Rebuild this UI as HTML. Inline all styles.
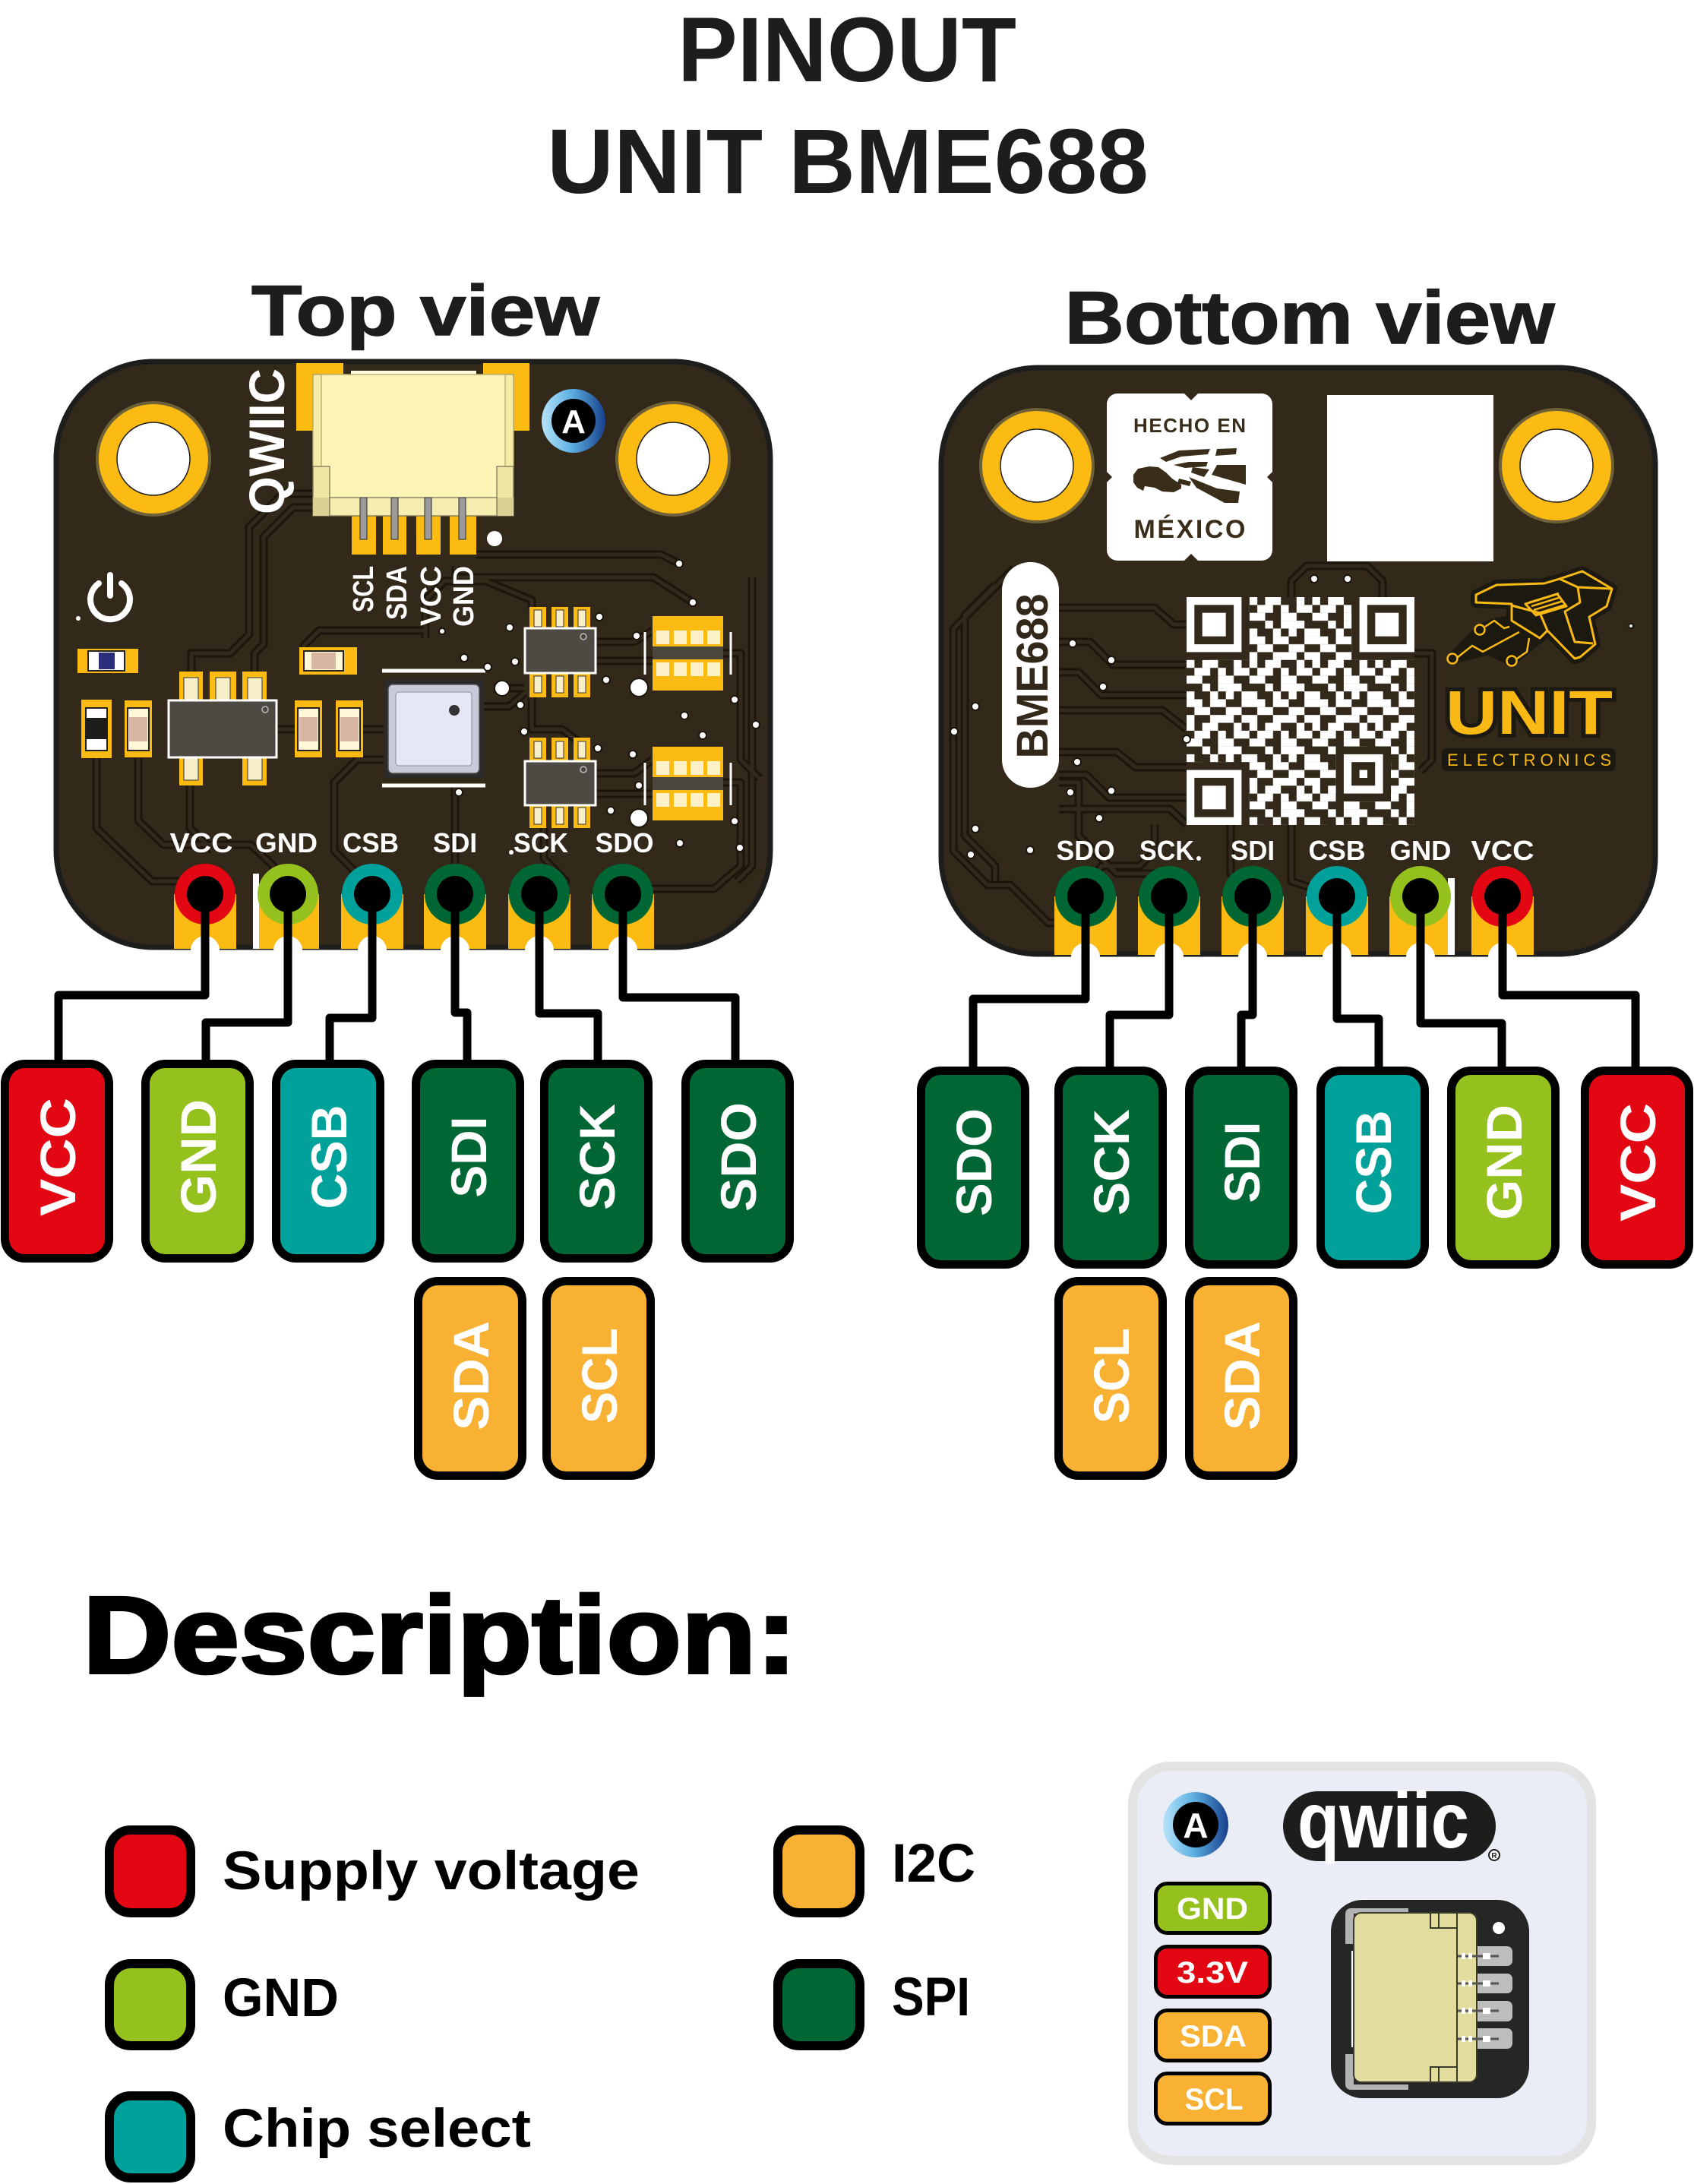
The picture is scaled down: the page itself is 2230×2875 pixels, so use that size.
<!DOCTYPE html>
<html><head><meta charset="utf-8"><title>Pinout UNIT BME688</title>
<style>
html,body{margin:0;padding:0;background:#fff;}
svg{display:block;}
text{font-family:"Liberation Sans",Arial,sans-serif;}
</style></head><body>
<svg width="2230" height="2875" viewBox="0 0 2230 2875" xmlns="http://www.w3.org/2000/svg">
<defs>
<linearGradient id="ag" x1="0" y1="0" x2="1" y2="0">
<stop offset="0" stop-color="#b7e3f8"/><stop offset="0.45" stop-color="#5fb2e4"/><stop offset="1" stop-color="#17408c"/>
</linearGradient>
<pattern id="qr" patternUnits="userSpaceOnUse" x="1562" y="786" width="82.76" height="82.76">
<g fill="#fff">
<rect x="0" y="0" width="10.4" height="10.4"/><rect x="20.69" y="0" width="20.75" height="10.4"/><rect x="62.07" y="0" width="10.4" height="10.4"/>
<rect x="10.345" y="10.345" width="20.75" height="10.4"/><rect x="41.38" y="10.345" width="10.4" height="10.4"/><rect x="62.07" y="10.345" width="20.75" height="10.4"/>
<rect x="0" y="20.69" width="20.75" height="10.4"/><rect x="41.38" y="20.69" width="20.75" height="10.4"/>
<rect x="20.69" y="31.03" width="10.4" height="10.4"/><rect x="41.38" y="31.03" width="31.1" height="10.4"/>
<rect x="0" y="41.38" width="10.4" height="10.4"/><rect x="31.03" y="41.38" width="10.4" height="10.4"/><rect x="51.72" y="41.38" width="10.4" height="10.4"/><rect x="72.41" y="41.38" width="10.4" height="10.4"/>
<rect x="0" y="51.72" width="20.75" height="10.4"/><rect x="31.03" y="51.72" width="20.75" height="10.4"/><rect x="72.41" y="51.72" width="10.4" height="10.4"/>
<rect x="10.345" y="62.07" width="20.75" height="10.4"/><rect x="51.72" y="62.07" width="20.75" height="10.4"/>
<rect x="0" y="72.41" width="10.4" height="10.4"/><rect x="31.03" y="72.41" width="31.1" height="10.4"/><rect x="72.41" y="72.41" width="10.4" height="10.4"/>
</g>
</pattern>
<g id="tt">
<path d="M411,650 H372 L328,694 V835 L303,860 H252 V884"/>
<path d="M411,668 H386 L347,707 V848 L335,860 V884"/>
<path d="M127,998 V1090 L200,1160 H240 L262,1177"/>
<path d="M182,998 V1080 L215,1112 H330 L360,1140 V1165 L379,1177"/>
<path d="M364,960 H388"/>
<path d="M478,960 H505"/>
<path d="M637,930 H670 L691,912"/>
<path d="M627,730 H870 L894,742"/>
<path d="M600,745 V760 H860 L912,793"/>
<path d="M560,840 V790 L585,765 H640 L700,790 V801"/>
<path d="M784,845 H835 L859,830"/>
<path d="M784,870 H859"/>
<path d="M784,1018 H835 L859,1000"/>
<path d="M784,1045 H859"/>
<path d="M952,860 H975 V1000 L1000,1025"/>
<path d="M952,1030 H975 V1140 L940,1170 H840 L820,1177"/>
<path d="M716,1090 V1130 L745,1160 H690 L710,1177"/>
<path d="M505,1000 H470 L440,1030 V1120 L490,1170"/>
<path d="M599,1034 V1177"/>
<path d="M250,1034 V1090 L280,1120"/>
<path d="M700,918 V960 H740 L760,975"/>
<path d="M650,906 H690"/>
<path d="M400,888 V850 L420,830 H560"/>
<path d="M990,760 V1140 L970,1160"/>
</g>
<g id="bt">
<path d="M1394,800 H1520 L1545,822 H1562"/>
<path d="M1394,845 H1435 L1465,875 H1560"/>
<path d="M1394,885 H1420 L1450,915 H1562"/>
<path d="M1394,935 H1530 L1562,960"/>
<path d="M1394,990 H1470 L1495,1010 H1562"/>
<path d="M1394,1020 H1430 L1460,1050 H1562"/>
<path d="M1394,1065 H1540 L1562,1085"/>
<path d="M1310,770 L1270,810 V1100 L1310,1140 V1160"/>
<path d="M1335,748 L1255,828 V1120 L1300,1165 H1330 L1380,1215 H1400"/>
<path d="M1394,1030 H1420 V1100 L1470,1150 H1520 L1539,1170"/>
<path d="M1700,786 V765 L1720,745 H1800 L1820,765 V786"/>
<path d="M1620,1085 V1150 L1649,1170"/>
<path d="M1700,1085 V1160 L1760,1180"/>
<path d="M1520,1085 V1120 L1500,1140 H1450 L1429,1170"/>
<path d="M1862,860 H1885 V1000 L1870,1015"/>
</g>
</defs>

<!-- Titles -->
<g fill="#1d1d1b" font-weight="bold">
<text x="1115" y="107" font-size="121" text-anchor="middle" textLength="446" lengthAdjust="spacingAndGlyphs">PINOUT</text>
<text x="1116" y="254" font-size="121" text-anchor="middle" textLength="792" lengthAdjust="spacingAndGlyphs">UNIT BME688</text>
<text x="560" y="441" font-size="94" text-anchor="middle" textLength="458" lengthAdjust="spacingAndGlyphs" stroke="#1d1d1b" stroke-width="1.5">Top view</text>
<text x="1724" y="452" font-size="98" text-anchor="middle" textLength="645" lengthAdjust="spacingAndGlyphs" stroke="#1d1d1b" stroke-width="1.5">Bottom view</text>
</g>

<!-- ================= TOP BOARD ================= -->
<rect x="74" y="476" width="940" height="771" rx="128" fill="#33291a" stroke="#1d1d1b" stroke-width="7"/>
<use href="#tt" fill="none" stroke="#1b150c" stroke-width="11" stroke-linejoin="round"/>
<use href="#tt" fill="none" stroke="#33291a" stroke-width="5" stroke-linejoin="round"/>

<!-- holes -->
<circle cx="202" cy="604" r="74" fill="#fbbb12" stroke="#6e6138" stroke-width="4"/>
<circle cx="202" cy="604" r="48" fill="#fff" stroke="#1d1d1b" stroke-width="1.5"/>
<circle cx="886" cy="604" r="74" fill="#fbbb12" stroke="#6e6138" stroke-width="4"/>
<circle cx="886" cy="604" r="48" fill="#fff" stroke="#1d1d1b" stroke-width="1.5"/>

<!-- QWIIC connector -->
<rect x="390" y="478" width="62" height="89" fill="#fbbb12"/>
<rect x="636" y="478" width="61" height="89" fill="#fbbb12"/>
<rect x="462" y="488" width="165" height="6" fill="#fffbe2"/>
<g fill="#fbbb12">
<path d="M463,680 L470,672 H488 L495,680 V730 H463 Z"/>
<path d="M504,680 L511,672 H528 L535,680 V730 H504 Z"/>
<path d="M548,680 L555,672 H573 L580,680 V730 H548 Z"/>
<path d="M592,680 L599,672 H620 L627,680 V730 H592 Z"/>
</g>
<rect x="412" y="493" width="264" height="186" fill="#fbf4b5" stroke="#bdb278" stroke-width="1.5"/>
<path d="M412,493 H423 V614 H412 Z" fill="#f5eca8" stroke="#9f9662" stroke-width="1"/>
<path d="M665,493 H676 V614 H665 Z" fill="#f5eca8" stroke="#9f9662" stroke-width="1"/>
<rect x="412" y="614" width="22" height="65" fill="#f1e7a4" stroke="#5a5440" stroke-width="1"/>
<rect x="654" y="614" width="22" height="65" fill="#f1e7a4" stroke="#5a5440" stroke-width="1"/>
<rect x="412" y="655" width="22" height="24" fill="#dcd194"/>
<rect x="654" y="655" width="22" height="24" fill="#dcd194"/>
<rect x="434" y="655" width="220" height="24" fill="#f6eeb0" stroke="#5a5440" stroke-width="1"/>
<g fill="#9a9a9a" stroke="#2a2a2a" stroke-width="1">
<rect x="474" y="655" width="9" height="55"/><rect x="515" y="655" width="9" height="55"/><rect x="559" y="655" width="9" height="55"/><rect x="604" y="655" width="9" height="55"/>
</g>
<circle cx="651" cy="709" r="10" fill="#fff"/>
<text transform="translate(374,581) rotate(-90)" font-size="66" font-weight="bold" fill="#fff" text-anchor="middle" textLength="192" lengthAdjust="spacingAndGlyphs">QWIIC</text>
<!-- A badge -->
<circle cx="755" cy="554" r="42" fill="url(#ag)"/>
<circle cx="755" cy="554" r="29" fill="#000"/>
<text x="755" y="570" font-size="44" font-weight="bold" fill="#fff" text-anchor="middle">A</text>
<!-- connector labels -->
<g font-size="38" font-weight="bold" fill="#fff" text-anchor="end">
<text transform="translate(491,745) rotate(-90)" textLength="61" lengthAdjust="spacingAndGlyphs">SCL</text>
<text transform="translate(535,745) rotate(-90)" textLength="71" lengthAdjust="spacingAndGlyphs">SDA</text>
<text transform="translate(580,745) rotate(-90)" textLength="79" lengthAdjust="spacingAndGlyphs">VCC</text>
<text transform="translate(623,745) rotate(-90)" textLength="80" lengthAdjust="spacingAndGlyphs">GND</text>
</g>
<!-- power icon -->
<path d="M130,768 A26,26 0 1 0 160,768" fill="none" stroke="#fff" stroke-width="8" stroke-linecap="round"/>
<line x1="145" y1="757" x2="145" y2="784" stroke="#fff" stroke-width="8" stroke-linecap="round"/>
<circle cx="103" cy="814" r="3" fill="#fff"/>
<!-- LED -->
<rect x="102" y="854" width="80" height="32" fill="#fbbb12"/>
<rect x="116" y="857" width="48" height="26" fill="#fff" stroke="#222" stroke-width="2"/>
<rect x="130" y="859" width="21" height="22" fill="#2b2f7a"/>
<!-- left vertical parts -->
<rect x="107" y="921" width="40" height="77" fill="#fbbb12"/>
<rect x="113" y="932" width="28" height="56" fill="#fff" stroke="#222" stroke-width="2"/>
<rect x="113" y="945" width="28" height="28" fill="#1d1d1b"/>
<rect x="164" y="922" width="36" height="75" fill="#fbbb12"/>
<rect x="168" y="932" width="28" height="56" fill="#fff7d8" stroke="#222" stroke-width="2"/>
<rect x="170" y="944" width="24" height="32" fill="#d8b6a4"/>
<!-- big IC -->
<g fill="#fbbb12">
<rect x="236" y="884" width="31" height="40"/><rect x="276" y="884" width="35" height="40"/><rect x="319" y="884" width="32" height="40"/>
<rect x="236" y="995" width="31" height="39"/><rect x="319" y="995" width="32" height="39"/>
</g>
<g fill="#f7efc8" stroke="#333" stroke-width="1">
<rect x="242" y="892" width="19" height="30"/><rect x="284" y="892" width="19" height="30"/><rect x="326" y="892" width="19" height="30"/>
<rect x="242" y="997" width="19" height="30"/><rect x="326" y="997" width="19" height="30"/>
</g>
<rect x="222" y="922" width="142" height="75" fill="#4d4a44" stroke="#fff" stroke-width="3"/>
<circle cx="349" cy="934" r="4" fill="none" stroke="#bbb" stroke-width="1.5"/>
<!-- caps -->
<rect x="388" y="922" width="36" height="75" fill="#fbbb12"/>
<rect x="392" y="932" width="28" height="56" fill="#fff7d8" stroke="#222" stroke-width="2"/>
<rect x="394" y="944" width="24" height="32" fill="#d8b6a4"/>
<rect x="442" y="922" width="36" height="75" fill="#fbbb12"/>
<rect x="446" y="932" width="28" height="56" fill="#fff7d8" stroke="#222" stroke-width="2"/>
<rect x="448" y="944" width="24" height="32" fill="#d8b6a4"/>
<rect x="394" y="852" width="76" height="36" fill="#fbbb12"/>
<rect x="400" y="857" width="52" height="26" fill="#fff7d8" stroke="#222" stroke-width="2"/>
<rect x="410" y="859" width="32" height="22" fill="#d8b6a4"/>
<!-- BME688 sensor -->
<line x1="503" y1="883" x2="639" y2="883" stroke="#fff" stroke-width="5"/>
<line x1="503" y1="1034" x2="639" y2="1034" stroke="#fff" stroke-width="5"/>
<rect x="505" y="895" width="132" height="129" fill="#2b2b2b"/>
<rect x="511" y="901" width="120" height="117" rx="6" fill="#c9cad8" stroke="#555" stroke-width="1.5"/>
<rect x="521" y="911" width="100" height="97" rx="4" fill="#e6e7f5" stroke="#8c8c9a" stroke-width="1"/>
<circle cx="598" cy="935" r="7" fill="#333"/>
<!-- small ICs -->
<g fill="#fbbb12">
<rect x="697" y="799" width="22" height="30"/><rect x="726" y="799" width="22" height="30"/><rect x="755" y="799" width="22" height="30"/>
<rect x="697" y="884" width="22" height="34"/><rect x="726" y="884" width="22" height="34"/><rect x="755" y="884" width="22" height="34"/>
<rect x="697" y="971" width="22" height="33"/><rect x="726" y="971" width="22" height="33"/><rect x="755" y="971" width="22" height="33"/>
<rect x="697" y="1058" width="22" height="32"/><rect x="726" y="1058" width="22" height="32"/><rect x="755" y="1058" width="22" height="32"/>
</g>
<g fill="#f7efc8" stroke="#333" stroke-width="1">
<rect x="703" y="803" width="10" height="22"/><rect x="732" y="803" width="10" height="22"/><rect x="761" y="803" width="10" height="22"/>
<rect x="703" y="890" width="10" height="22"/><rect x="732" y="890" width="10" height="22"/><rect x="761" y="890" width="10" height="22"/>
<rect x="703" y="976" width="10" height="22"/><rect x="732" y="976" width="10" height="22"/><rect x="761" y="976" width="10" height="22"/>
<rect x="703" y="1063" width="10" height="22"/><rect x="732" y="1063" width="10" height="22"/><rect x="761" y="1063" width="10" height="22"/>
</g>
<rect x="691" y="827" width="93" height="59" fill="#4d4a44" stroke="#fff" stroke-width="3"/>
<rect x="691" y="1002" width="93" height="58" fill="#4d4a44" stroke="#fff" stroke-width="3"/>
<circle cx="768" cy="838" r="4" fill="none" stroke="#bbb" stroke-width="1.5"/>
<circle cx="768" cy="1013" r="4" fill="none" stroke="#bbb" stroke-width="1.5"/>
<!-- resistor arrays -->
<g>
<rect x="859" y="811" width="93" height="98" fill="#fbbb12"/>
<g fill="#fdf1c8"><rect x="864" y="830" width="17" height="18"/><rect x="887" y="830" width="17" height="18"/><rect x="909" y="830" width="17" height="18"/><rect x="931" y="830" width="17" height="18"/>
<rect x="864" y="872" width="17" height="18"/><rect x="887" y="872" width="17" height="18"/><rect x="909" y="872" width="17" height="18"/><rect x="931" y="872" width="17" height="18"/></g>
<rect x="859" y="851" width="93" height="17" fill="#4a463c"/>
<rect x="859" y="983" width="93" height="97" fill="#fbbb12"/>
<g fill="#fdf1c8"><rect x="864" y="1002" width="17" height="18"/><rect x="887" y="1002" width="17" height="18"/><rect x="909" y="1002" width="17" height="18"/><rect x="931" y="1002" width="17" height="18"/>
<rect x="864" y="1044" width="17" height="18"/><rect x="887" y="1044" width="17" height="18"/><rect x="909" y="1044" width="17" height="18"/><rect x="931" y="1044" width="17" height="18"/></g>
<rect x="859" y="1023" width="93" height="17" fill="#4a463c"/>
<g stroke="#fff" stroke-width="3"><line x1="849" y1="832" x2="849" y2="888"/><line x1="962" y1="832" x2="962" y2="888"/><line x1="849" y1="1004" x2="849" y2="1060"/><line x1="962" y1="1004" x2="962" y2="1060"/></g>
</g>
<!-- vias -->
<g fill="#fff" stroke="#1b150c" stroke-width="2">
<circle cx="894" cy="742" r="5"/><circle cx="912" cy="793" r="5"/><circle cx="671" cy="826" r="5"/><circle cx="789" cy="812" r="5"/>
<circle cx="838" cy="837" r="5"/><circle cx="678" cy="871" r="5"/><circle cx="798" cy="895" r="5"/><circle cx="642" cy="878" r="5"/>
<circle cx="611" cy="866" r="5"/><circle cx="967" cy="921" r="5"/><circle cx="901" cy="942" r="5"/><circle cx="995" cy="954" r="5"/>
<circle cx="925" cy="968" r="5"/><circle cx="685" cy="928" r="5"/><circle cx="690" cy="963" r="5"/><circle cx="787" cy="985" r="5"/>
<circle cx="833" cy="993" r="5"/><circle cx="841" cy="1034" r="5"/><circle cx="604" cy="1043" r="5"/><circle cx="804" cy="1067" r="5"/>
<circle cx="967" cy="1081" r="5"/><circle cx="895" cy="1110" r="5"/><circle cx="974" cy="1116" r="5"/><circle cx="582" cy="831" r="4"/>
<circle cx="661" cy="906" r="10"/><circle cx="841" cy="905" r="12"/><circle cx="841" cy="1077" r="12"/>
</g>
<!-- pin labels top -->
<g font-size="36" font-weight="bold" fill="#fff" text-anchor="middle">
<text x="265" y="1122" textLength="83" lengthAdjust="spacingAndGlyphs">VCC</text>
<text x="377" y="1122" textLength="82" lengthAdjust="spacingAndGlyphs">GND</text>
<text x="488" y="1122" textLength="74" lengthAdjust="spacingAndGlyphs">CSB</text>
<text x="599" y="1122" textLength="58" lengthAdjust="spacingAndGlyphs">SDI</text>
<text x="712" y="1122" textLength="72" lengthAdjust="spacingAndGlyphs">SCK</text>
<text x="822" y="1122" textLength="77" lengthAdjust="spacingAndGlyphs">SDO</text>
</g>
<circle cx="673" cy="1122" r="3" fill="#fff"/>
<!-- pads and rings top -->
<g fill="#fbbb12">
<rect x="229" y="1177" width="82" height="72"/><rect x="338" y="1177" width="82" height="72"/><rect x="449" y="1177" width="82" height="72"/>
<rect x="558" y="1177" width="82" height="72"/><rect x="669" y="1177" width="82" height="72"/><rect x="779" y="1177" width="82" height="72"/>
</g>
<rect x="333" y="1150" width="8" height="99" fill="#fff"/>
<g fill="#fff">
<circle cx="270" cy="1251" r="19"/><circle cx="379" cy="1251" r="19"/><circle cx="490" cy="1251" r="19"/>
<circle cx="599" cy="1251" r="19"/><circle cx="710" cy="1251" r="19"/><circle cx="820" cy="1251" r="19"/>
</g>
<circle cx="270" cy="1177" r="40" fill="#e30613"/><circle cx="379" cy="1177" r="40" fill="#95c11f"/><circle cx="490" cy="1177" r="40" fill="#00a19a"/>
<circle cx="599" cy="1177" r="40" fill="#006633"/><circle cx="710" cy="1177" r="40" fill="#006633"/><circle cx="820" cy="1177" r="40" fill="#006633"/>
<g fill="#000">
<circle cx="270" cy="1177" r="24"/><circle cx="379" cy="1177" r="24"/><circle cx="490" cy="1177" r="24"/>
<circle cx="599" cy="1177" r="24"/><circle cx="710" cy="1177" r="24"/><circle cx="820" cy="1177" r="24"/>
</g>

<!-- ================= BOTTOM BOARD ================= -->
<rect x="1239" y="484" width="940" height="772" rx="128" fill="#33291a" stroke="#1d1d1b" stroke-width="7"/>
<use href="#bt" fill="none" stroke="#1b150c" stroke-width="11" stroke-linejoin="round"/>
<use href="#bt" fill="none" stroke="#33291a" stroke-width="5" stroke-linejoin="round"/>
<circle cx="1365" cy="613" r="74" fill="#fbbb12" stroke="#6e6138" stroke-width="4"/>
<circle cx="1365" cy="613" r="48" fill="#fff" stroke="#1d1d1b" stroke-width="1.5"/>
<circle cx="2049" cy="613" r="74" fill="#fbbb12" stroke="#6e6138" stroke-width="4"/>
<circle cx="2049" cy="613" r="48" fill="#fff" stroke="#1d1d1b" stroke-width="1.5"/>
<!-- Hecho en Mexico badge -->
<rect x="1457" y="518" width="218" height="220" rx="14" fill="#fff"/>
<g fill="#33291a">
<path d="M1559,518 L1568,527 L1577,518 Z"/><path d="M1559,738 L1568,729 L1577,738 Z"/>
<path d="M1457,621 L1464,628 L1457,635 Z"/><path d="M1675,621 L1668,628 L1675,635 Z"/>
</g>
<g fill="#3a2e1a" font-weight="bold" text-anchor="middle">
<text x="1566" y="569" font-size="26" textLength="148" lengthAdjust="spacing">HECHO EN</text>
<text x="1566" y="708" font-size="34" textLength="147" lengthAdjust="spacing">MÉXICO</text>
<path d="M1492,625 L1498,617 L1513,614 L1525,615 L1535,622 L1543,630 L1555,638 L1555,643 L1545,648 L1530,647 L1520,642 L1507,640 L1505,646 L1497,642 L1492,635 Z"/>
<path d="M1527,603 L1552,593 L1593,591 L1590,598 L1555,601 L1535,608 Z"/>
<path d="M1602,591 L1628,590 L1627,598 L1600,600 Z"/>
<path d="M1545,612 L1565,608 L1590,608 L1588,614 L1560,616 Z"/>
<path d="M1602,612 L1640,612 L1640,638 L1595,625 Z"/>
<path d="M1565,628 L1602,643 L1632,647 L1630,662 L1612,662 L1575,642 Z"/>
<path d="M1552,630 L1568,634 L1566,640 L1550,636 Z"/>
<path d="M1570,615 L1592,618 L1585,628 L1568,622 Z"/>
</g>
<!-- white square -->
<rect x="1747" y="520" width="219" height="219" fill="#fff"/>
<!-- BME688 pill -->
<rect x="1319" y="740" width="75" height="297" rx="37" fill="#fff"/>
<text transform="translate(1379,890) rotate(-90)" font-size="58" font-weight="bold" fill="#33291a" text-anchor="middle" textLength="217" lengthAdjust="spacingAndGlyphs">BME688</text>
<!-- QR code -->
<rect x="1562" y="786" width="300" height="300" fill="url(#qr)"/>
<g fill="#33291a">
<rect x="1562" y="786" width="82.8" height="82.8"/><rect x="1779.2" y="786" width="82.8" height="82.8"/><rect x="1562" y="1003.2" width="82.8" height="82.8"/>
<rect x="1758.6" y="982.6" width="72.4" height="72.4"/>
</g>
<g fill="#fff">
<rect x="1562" y="786" width="72.4" height="72.4"/><rect x="1789.6" y="786" width="72.4" height="72.4"/><rect x="1562" y="1013.6" width="72.4" height="72.4"/>
<rect x="1768.9" y="992.9" width="51.7" height="51.7"/>
</g>
<g fill="#33291a">
<rect x="1572.3" y="796.3" width="51.8" height="51.8"/><rect x="1799.9" y="796.3" width="51.8" height="51.8"/><rect x="1572.3" y="1023.9" width="51.8" height="51.8"/>
<rect x="1779.2" y="1003.2" width="31" height="31"/>
</g>
<g fill="#fff">
<rect x="1582.7" y="806.7" width="31" height="31"/><rect x="1810.3" y="806.7" width="31" height="31"/><rect x="1582.7" y="1034.3" width="31" height="31"/>
<rect x="1789.6" y="1013.6" width="10.4" height="10.4"/>
</g>
<!-- UNIT logo -->
<g fill="#1c1910" stroke="#1c1910" stroke-width="14" stroke-linejoin="round">
<path d="M1943,783 L1970,770 L2033,768 L2053,762 L2083,752 L2122,775 L2115,798 L2092,812 L2100,848 L2080,865 L2073,867 L2037,830 L2027,840 L1990,817 L1990,795 L1943,793 Z"/>
<path d="M1948,829 L1970,820 L1990,817 L2037,830 L1990,870 L1960,855 L1912,867 Z"/>
</g>
<g fill="none" stroke="#f9b914" stroke-width="3" stroke-linejoin="round">
<path d="M1943,783 L1970,770 L2033,768 L2053,762 L2083,752 L2122,775 L2115,798 L2092,812 L2100,848 L2080,865 L2073,867 L2037,830 L2027,840 L1990,817 L1990,795 L1943,793 Z"/>
<path d="M1990,797 L2027,807 L2037,830"/>
<path d="M2053,762 L2077,773 L2122,775"/>
<path d="M2077,773 L2080,793 L2060,805 L2073,845 L2097,847"/>
<path d="M2008,795 L2050,782 L2062,798 L2022,810 Z"/>
</g>
<g stroke="#f9b914" stroke-width="2.5" fill="none">
<line x1="2013" y1="793" x2="2052" y2="781"/><line x1="2016" y1="798" x2="2055" y2="786"/><line x1="2019" y1="803" x2="2058" y2="791"/>
<line x1="2022" y1="808" x2="2061" y2="796"/>
<path d="M1955,825 L1967,817 L1980,827 L1987,825"/>
<path d="M1919,865 L1938,850 L1952,858 L2000,832"/>
<path d="M1997,867 L2010,858 L2013,840"/>
<circle cx="1948" cy="829" r="6.5"/><circle cx="1912" cy="867" r="6.5"/><circle cx="1990" cy="870" r="6.5"/>
</g>
<text x="2013" y="966" font-size="82" font-weight="bold" fill="#f9b914" stroke="#1c1910" stroke-width="10" paint-order="stroke" text-anchor="middle" textLength="220" lengthAdjust="spacingAndGlyphs">UNIT</text>
<rect x="1898" y="985" width="229" height="30" rx="6" fill="#1c1910"/>
<text x="2013" y="1008" font-size="22" fill="#f9b914" text-anchor="middle" textLength="216" lengthAdjust="spacing">ELECTRONICS</text>
<!-- vias bottom -->
<g fill="#fff" stroke="#1b150c" stroke-width="2">
<circle cx="1730" cy="762" r="5"/><circle cx="1774" cy="762" r="5"/><circle cx="1412" cy="847" r="5"/><circle cx="1463" cy="869" r="5"/>
<circle cx="1452" cy="904" r="5"/><circle cx="1284" cy="930" r="5"/><circle cx="1256" cy="963" r="5"/><circle cx="1562" cy="973" r="5"/>
<circle cx="1418" cy="1003" r="5"/><circle cx="1409" cy="1043" r="5"/><circle cx="1463" cy="1041" r="5"/><circle cx="1447" cy="1077" r="5"/>
<circle cx="1284" cy="1091" r="5"/><circle cx="1278" cy="1125" r="5"/><circle cx="1356" cy="1119" r="5"/><circle cx="2147" cy="824" r="3"/>
</g>
<!-- pin labels bottom -->
<g font-size="36" font-weight="bold" fill="#fff" text-anchor="middle">
<text x="1429" y="1132" textLength="77" lengthAdjust="spacingAndGlyphs">SDO</text>
<text x="1536" y="1132" textLength="72" lengthAdjust="spacingAndGlyphs">SCK</text>
<text x="1649" y="1132" textLength="58" lengthAdjust="spacingAndGlyphs">SDI</text>
<text x="1760" y="1132" textLength="75" lengthAdjust="spacingAndGlyphs">CSB</text>
<text x="1870" y="1132" textLength="81" lengthAdjust="spacingAndGlyphs">GND</text>
<text x="1978" y="1132" textLength="83" lengthAdjust="spacingAndGlyphs">VCC</text>
</g>
<circle cx="1578" cy="1130" r="3" fill="#fff"/>
<g fill="#fbbb12">
<rect x="1388" y="1180" width="82" height="77"/><rect x="1498" y="1180" width="82" height="77"/><rect x="1608" y="1180" width="82" height="77"/>
<rect x="1719" y="1180" width="82" height="77"/><rect x="1829" y="1180" width="82" height="77"/><rect x="1937" y="1180" width="82" height="77"/>
</g>
<rect x="1906" y="1156" width="9" height="101" fill="#fff"/>
<g fill="#fff">
<circle cx="1429" cy="1260" r="19"/><circle cx="1539" cy="1260" r="19"/><circle cx="1649" cy="1260" r="19"/>
<circle cx="1760" cy="1260" r="19"/><circle cx="1870" cy="1260" r="19"/><circle cx="1978" cy="1260" r="19"/>
</g>
<circle cx="1429" cy="1180" r="40" fill="#006633"/><circle cx="1539" cy="1180" r="40" fill="#006633"/><circle cx="1649" cy="1180" r="40" fill="#006633"/>
<circle cx="1760" cy="1180" r="40" fill="#00a19a"/><circle cx="1870" cy="1180" r="40" fill="#95c11f"/><circle cx="1978" cy="1180" r="40" fill="#e30613"/>
<g fill="#000">
<circle cx="1429" cy="1180" r="24"/><circle cx="1539" cy="1180" r="24"/><circle cx="1649" cy="1180" r="24"/>
<circle cx="1760" cy="1180" r="24"/><circle cx="1870" cy="1180" r="24"/><circle cx="1978" cy="1180" r="24"/>
</g>

<!-- ================= CONNECTORS ================= -->
<g fill="none" stroke="#000" stroke-width="11" stroke-linejoin="round">
<polyline points="270,1177 270,1310 77,1310 77,1400"/>
<polyline points="379,1177 379,1346 271,1346 271,1400"/>
<polyline points="490,1177 490,1340 434,1340 434,1400"/>
<polyline points="599,1177 599,1333 615,1333 615,1400"/>
<polyline points="710,1177 710,1334 787,1334 787,1400"/>
<polyline points="820,1177 820,1313 968,1313 968,1400"/>
<polyline points="1429,1180 1429,1315 1281,1315 1281,1409"/>
<polyline points="1539,1180 1539,1336 1461,1336 1461,1409"/>
<polyline points="1649,1180 1649,1336 1634,1336 1634,1409"/>
<polyline points="1760,1180 1760,1341 1815,1341 1815,1409"/>
<polyline points="1870,1180 1870,1347 1977,1347 1977,1409"/>
<polyline points="1978,1180 1978,1310 2153,1310 2153,1409"/>
</g>

<!-- ================= PIN BOXES ================= -->
<g stroke="#000" stroke-width="11">
<rect x="6.5" y="1400.5" width="137" height="256" rx="26" fill="#e30613"/>
<rect x="191.5" y="1400.5" width="137" height="256" rx="26" fill="#95c11f"/>
<rect x="363.5" y="1400.5" width="137" height="256" rx="26" fill="#00a19a"/>
<rect x="547.5" y="1400.5" width="137" height="256" rx="26" fill="#006633"/>
<rect x="716.5" y="1400.5" width="137" height="256" rx="26" fill="#006633"/>
<rect x="902.5" y="1400.5" width="137" height="256" rx="26" fill="#006633"/>
<rect x="550.5" y="1686.5" width="137" height="256" rx="26" fill="#f8b133"/>
<rect x="719.5" y="1686.5" width="137" height="256" rx="26" fill="#f8b133"/>
<rect x="1212.5" y="1409.5" width="137" height="255" rx="26" fill="#006633"/>
<rect x="1393.5" y="1409.5" width="137" height="255" rx="26" fill="#006633"/>
<rect x="1565.5" y="1409.5" width="137" height="255" rx="26" fill="#006633"/>
<rect x="1738.5" y="1409.5" width="137" height="255" rx="26" fill="#00a19a"/>
<rect x="1910.5" y="1409.5" width="137" height="255" rx="26" fill="#95c11f"/>
<rect x="2086.5" y="1409.5" width="137" height="255" rx="26" fill="#e30613"/>
<rect x="1393.5" y="1686.5" width="137" height="256" rx="26" fill="#f8b133"/>
<rect x="1565.5" y="1686.5" width="137" height="256" rx="26" fill="#f8b133"/>
</g>
<g font-size="66" font-weight="bold" fill="#fff" text-anchor="middle">
<text transform="translate(99,1523) rotate(-90)" textLength="156" lengthAdjust="spacingAndGlyphs">VCC</text>
<text transform="translate(284,1523) rotate(-90)" textLength="152" lengthAdjust="spacingAndGlyphs">GND</text>
<text transform="translate(456,1523) rotate(-90)" textLength="137" lengthAdjust="spacingAndGlyphs">CSB</text>
<text transform="translate(640,1523) rotate(-90)" textLength="107" lengthAdjust="spacingAndGlyphs">SDI</text>
<text transform="translate(809,1523) rotate(-90)" textLength="140" lengthAdjust="spacingAndGlyphs">SCK</text>
<text transform="translate(995,1523) rotate(-90)" textLength="144" lengthAdjust="spacingAndGlyphs">SDO</text>
<text transform="translate(643,1811) rotate(-90)" textLength="144" lengthAdjust="spacingAndGlyphs">SDA</text>
<text transform="translate(812,1811) rotate(-90)" textLength="126" lengthAdjust="spacingAndGlyphs">SCL</text>
<text transform="translate(1305,1530) rotate(-90)" textLength="142" lengthAdjust="spacingAndGlyphs">SDO</text>
<text transform="translate(1486,1530) rotate(-90)" textLength="140" lengthAdjust="spacingAndGlyphs">SCK</text>
<text transform="translate(1658,1530) rotate(-90)" textLength="107" lengthAdjust="spacingAndGlyphs">SDI</text>
<text transform="translate(1831,1530) rotate(-90)" textLength="137" lengthAdjust="spacingAndGlyphs">CSB</text>
<text transform="translate(2003,1530) rotate(-90)" textLength="152" lengthAdjust="spacingAndGlyphs">GND</text>
<text transform="translate(2179,1530) rotate(-90)" textLength="156" lengthAdjust="spacingAndGlyphs">VCC</text>
<text transform="translate(1486,1811) rotate(-90)" textLength="126" lengthAdjust="spacingAndGlyphs">SCL</text>
<text transform="translate(1658,1811) rotate(-90)" textLength="144" lengthAdjust="spacingAndGlyphs">SDA</text>
</g>

<!-- ================= DESCRIPTION ================= -->
<text x="109" y="2202" font-size="144" font-weight="bold" fill="#000" stroke="#000" stroke-width="4" textLength="940" lengthAdjust="spacingAndGlyphs">Description:</text>
<g stroke="#000" stroke-width="12">
<rect x="144" y="2409" width="107" height="109" rx="28" fill="#e30613"/>
<rect x="144" y="2585" width="107" height="108" rx="28" fill="#95c11f"/>
<rect x="144" y="2759" width="107" height="108" rx="28" fill="#00a19a"/>
<rect x="1024" y="2409" width="108" height="109" rx="28" fill="#f8b133"/>
<rect x="1024" y="2585" width="108" height="108" rx="28" fill="#006633"/>
</g>
<g font-size="71" font-weight="bold" fill="#000">
<text x="293" y="2487" textLength="549" lengthAdjust="spacingAndGlyphs">Supply voltage</text>
<text x="293" y="2654" textLength="153" lengthAdjust="spacingAndGlyphs">GND</text>
<text x="293" y="2826" textLength="406" lengthAdjust="spacingAndGlyphs">Chip select</text>
<text x="1174" y="2477" textLength="110" lengthAdjust="spacingAndGlyphs">I2C</text>
<text x="1174" y="2653" textLength="103" lengthAdjust="spacingAndGlyphs">SPI</text>
</g>

<!-- ================= QWIIC BOX ================= -->
<rect x="1485" y="2319" width="616" height="531" rx="56" fill="#e3e3e3"/>
<rect x="1497" y="2331" width="592" height="507" rx="45" fill="#eaedf5"/>
<circle cx="1574" cy="2402" r="43" fill="url(#ag)"/>
<circle cx="1574" cy="2402" r="30" fill="#000"/>
<text x="1574" y="2419" font-size="46" font-weight="bold" fill="#fff" text-anchor="middle">A</text>
<rect x="1689" y="2358" width="280" height="92" rx="46" fill="#1d1d1b"/>
<text x="1821" y="2432" font-size="104" font-weight="bold" fill="#fff" text-anchor="middle" textLength="226" lengthAdjust="spacingAndGlyphs">qwiic</text>
<circle cx="1967" cy="2442" r="7" fill="#fff" stroke="#1d1d1b" stroke-width="2"/>
<text x="1967" y="2446" font-size="10" font-weight="bold" fill="#1d1d1b" text-anchor="middle">R</text>
<g stroke="#000" stroke-width="5">
<rect x="1521.5" y="2479.5" width="150" height="65" rx="15" fill="#95c11f"/>
<rect x="1521.5" y="2562.5" width="150" height="66" rx="15" fill="#e30613"/>
<rect x="1521.5" y="2646.5" width="150" height="66" rx="15" fill="#f8b133"/>
<rect x="1521.5" y="2729.5" width="150" height="66" rx="15" fill="#f8b133"/>
</g>
<g font-size="40" font-weight="bold" fill="#fff" text-anchor="middle">
<text x="1596" y="2526" textLength="94" lengthAdjust="spacingAndGlyphs">GND</text>
<text x="1596" y="2610" textLength="94" lengthAdjust="spacingAndGlyphs">3.3V</text>
<text x="1597" y="2694" textLength="88" lengthAdjust="spacingAndGlyphs">SDA</text>
<text x="1598" y="2777" textLength="77" lengthAdjust="spacingAndGlyphs">SCL</text>
</g>
<!-- connector graphic -->
<rect x="1752" y="2501" width="261" height="261" rx="42" fill="#262626"/>
<path d="M1771,2559 V2520 Q1771,2512 1779,2512 H1854 V2519 H1782 V2559 Z" fill="#b3b3b3"/>
<path d="M1771,2704 V2743 Q1771,2751 1779,2751 H1854 V2744 H1782 V2704 Z" fill="#b3b3b3"/>
<line x1="1780" y1="2568" x2="1780" y2="2695" stroke="#fff" stroke-width="2"/>
<g fill="#bdbdbd">
<rect x="1935" y="2562" width="56" height="26" rx="7"/><rect x="1935" y="2598" width="56" height="26" rx="7"/>
<rect x="1935" y="2634" width="56" height="27" rx="7"/><rect x="1935" y="2670" width="56" height="27" rx="7"/>
</g>
<rect x="1782" y="2518" width="162" height="223" rx="10" fill="#e2dc9e" stroke="#3a3a2a" stroke-width="2"/>
<g stroke="#3a3a2a" stroke-width="2" fill="none">
<line x1="1918" y1="2518" x2="1918" y2="2741"/>
<polyline points="1883,2518 1883,2538 1918,2538"/>
<polyline points="1883,2741 1883,2721 1918,2721"/>
<line x1="1894" y1="2518" x2="1894" y2="2538"/>
<line x1="1894" y1="2721" x2="1894" y2="2741"/>
</g>
<g stroke="#555" stroke-width="3">
<line x1="1919" y1="2575" x2="1973" y2="2575"/><line x1="1919" y1="2611" x2="1973" y2="2611"/>
<line x1="1919" y1="2647" x2="1973" y2="2647"/><line x1="1919" y1="2684" x2="1973" y2="2684"/>
</g>
<g fill="#fff">
<rect x="1924" y="2571" width="5" height="8"/><rect x="1933" y="2571" width="5" height="8"/><rect x="1952" y="2571" width="10" height="8"/>
<rect x="1924" y="2607" width="5" height="8"/><rect x="1933" y="2607" width="5" height="8"/><rect x="1952" y="2607" width="10" height="8"/>
<rect x="1924" y="2643" width="5" height="8"/><rect x="1933" y="2643" width="5" height="8"/><rect x="1952" y="2643" width="10" height="8"/>
<rect x="1924" y="2680" width="5" height="8"/><rect x="1933" y="2680" width="5" height="8"/><rect x="1952" y="2680" width="10" height="8"/>
</g>
<circle cx="1973" cy="2538" r="8" fill="#fff"/>
</svg>
</body></html>
